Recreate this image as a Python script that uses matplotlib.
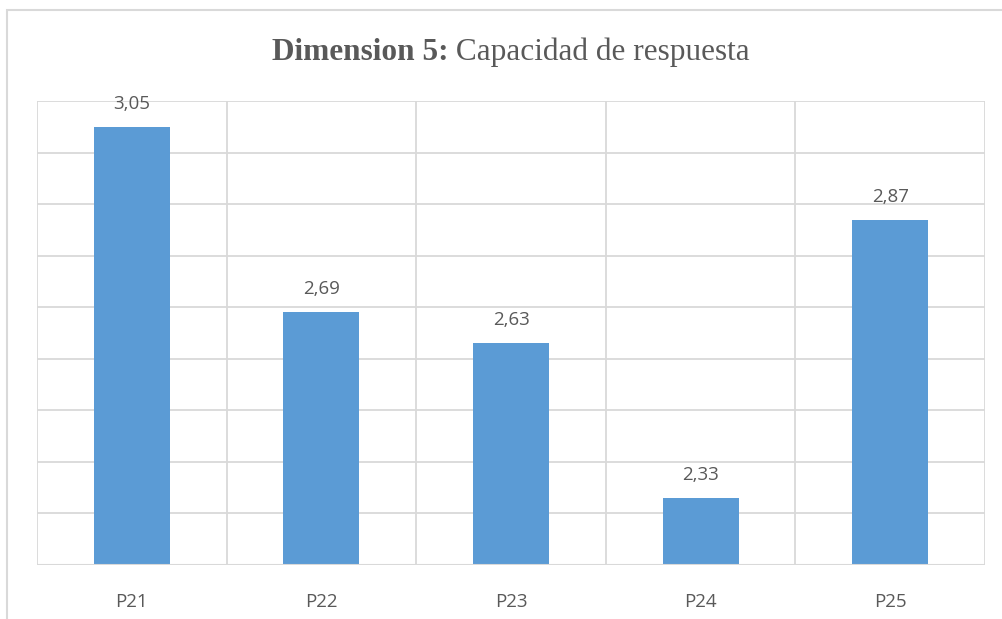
import matplotlib
matplotlib.use("Agg")
import matplotlib.pyplot as plt
from matplotlib.patches import Rectangle

categories = ["P21", "P22", "P23", "P24", "P25"]
values = [3.05, 2.69, 2.63, 2.33, 2.87]
value_labels = ["3,05", "2,69", "2,63", "2,33", "2,87"]

BAR = "#5B9BD5"
GRID = "#D9D9D9"
TEXT = "#595959"

fig = plt.figure(figsize=(10.02, 6.19), dpi=100)
fig.patch.set_facecolor("white")

# outer chart frame (extends past right/bottom edge)
fig.patches.append(Rectangle((7 / 1002, -0.1), 1.2, (619 - 10) / 619 + 0.1,
                             transform=fig.transFigure, fill=False,
                             edgecolor=GRID, linewidth=1.5))

ax = fig.add_axes([37 / 1002, 1 - 565 / 619, (985 - 37) / 1002, (565 - 101) / 619])
x = range(len(categories))
ax.bar(x, values, width=0.4, color=BAR, zorder=3)
ax.set_xlim(-0.5, len(categories) - 0.5)
ax.set_ylim(2.2, 3.1)
ax.set_yticks([2.2 + 0.1 * i for i in range(10)])
ax.set_yticklabels([])
ax.tick_params(axis="y", length=0)
ax.tick_params(axis="x", length=0, pad=20, labelsize=13.5, labelcolor=TEXT)
ax.set_xticks(list(x))
ax.set_xticklabels(categories, fontfamily="Open Sans")
ax.grid(axis="y", color=GRID, linewidth=1.3, zorder=0)
for b in [i + 0.5 for i in range(-1, len(categories))]:
    ax.axvline(b, color=GRID, linewidth=1.3, zorder=0)
for s in ax.spines.values():
    s.set_visible(False)
ax.axhline(2.2, color=GRID, linewidth=1.5, zorder=4)

for xi, v, lab in zip(x, values, value_labels):
    ax.annotate(lab, (xi, v), xytext=(0, 10), textcoords="offset points",
                ha="center", va="bottom", fontsize=13.5, color=TEXT,
                fontfamily="Open Sans")

# two-part title: bold prefix + regular remainder, centred together
fig.canvas.draw()
renderer = fig.canvas.get_renderer()
ty = 1 - 52 / 619
t1 = fig.text(0, ty, "Dimension 5:", fontsize=22.5, fontweight="bold",
              family="Liberation Serif", color=TEXT, va="center", ha="left")
t2 = fig.text(0, ty, " Capacidad de respuesta", fontsize=22.5,
              family="Liberation Serif", color=TEXT, va="center", ha="left")
w1 = t1.get_window_extent(renderer).width / fig.bbox.width
w2 = t2.get_window_extent(renderer).width / fig.bbox.width
cx = (37 + 985) / 2 / 1002
start = cx - (w1 + w2) / 2
t1.set_x(start)
t2.set_x(start + w1)

fig.savefig("out.png", dpi=100)
